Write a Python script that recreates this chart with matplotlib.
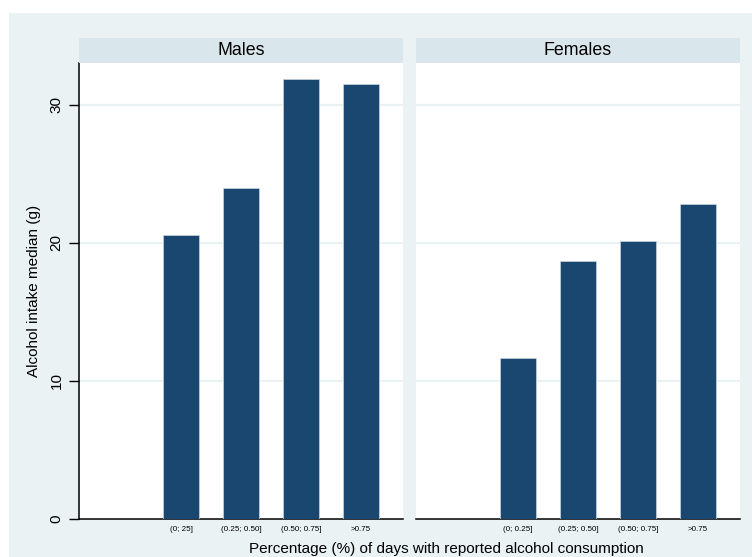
import matplotlib
matplotlib.use("Agg")
import matplotlib.pyplot as plt
from matplotlib.patches import Rectangle

plt.rcParams['font.family'] = ['Liberation Sans', 'DejaVu Sans']

# Data
groups = ["Males", "Females"]
male_labels = ["(0; 25]", "(0.25; 0.50]", "(0.50; 0.75]", ">0.75"]
female_labels = ["(0; 0.25]", "(0.25; 0.50]", "(0.50; 0.75]", ">0.75"]
male_values = [20.6, 24.0, 31.9, 31.5]
female_values = [11.65, 18.7, 20.15, 22.8]
y_ticks = [0, 10, 20, 30]

BAR = "#1a476f"
BG = "#eaf2f3"
STRIP = "#d9e6eb"
W, H = 752, 557

fig = plt.figure(figsize=(W / 100, H / 100), dpi=100, facecolor="white")
fig.patches.append(Rectangle((9 / W, 0), 1 - 9 / W, (H - 13) / H,
                             transform=fig.transFigure, facecolor=BG,
                             edgecolor="none", zorder=-10))

def fx(px):
    return px / W

def fy(py):
    return 1 - py / H

panels = [
    (79, 403, "Males", male_labels, male_values),
    (416, 740, "Females", female_labels, female_values),
]
top_px, base_px, strip_top = 63, 519, 38
axes = []
for i, (x0, x1, title, labels, vals) in enumerate(panels):
    ax = fig.add_axes([fx(x0), fy(base_px), fx(x1) - fx(x0), fy(top_px) - fy(base_px)])
    ax.set_facecolor("white")
    pos = list(range(1, len(vals) + 1))
    ax.bar(pos, vals, width=0.6, color=BAR, edgecolor="#c8d6df", linewidth=0.5, zorder=3)
    ax.set_xlim(-0.7, 4.7)
    ax.set_ylim(0, 33.04)
    for t in y_ticks[1:]:
        ax.axhline(t, color=BG, linewidth=1.6, zorder=1)
    ax.set_xticks(pos)
    ax.set_xticklabels(labels, fontsize=5.8)
    ax.tick_params(axis="x", length=0, pad=5)
    for s in ["top", "right"]:
        ax.spines[s].set_visible(False)
    ax.spines["bottom"].set_linewidth(1.1)
    if i == 0:
        ax.spines["left"].set_linewidth(1.1)
        ax.set_yticks(y_ticks)
        ax.set_yticklabels([str(t) for t in y_ticks], rotation=90, va="center", fontsize=11)
        ax.tick_params(axis="y", length=7, width=1.0, pad=4)
        ax.set_ylabel("Alcohol intake median (g)", fontsize=11, labelpad=6)
    else:
        ax.spines["left"].set_visible(False)
        ax.set_yticks([])
    # header strip
    sax = fig.add_axes([fx(x0), fy(top_px), fx(x1) - fx(x0), fy(strip_top) - fy(top_px)])
    sax.set_facecolor(STRIP)
    sax.set_xticks([]); sax.set_yticks([])
    for s in sax.spines.values():
        s.set_visible(False)
    sax.text(0.5, 0.5, title, ha="center", va="center", fontsize=12.8, transform=sax.transAxes)
    axes.append(ax)

fig.text(fx(446), fy(549), "Percentage (%) of days with reported alcohol consumption",
         ha="center", va="center", fontsize=11)

fig.savefig("out.png", dpi=100, facecolor="white")
